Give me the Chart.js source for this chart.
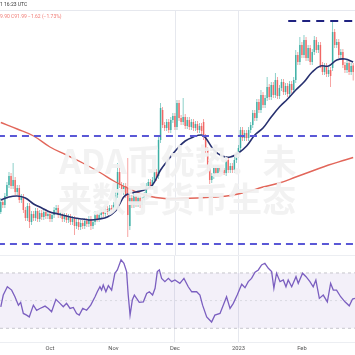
<!DOCTYPE html>
<html><head><meta charset="utf-8">
<script src="https://cdn.jsdelivr.net/npm/chart.js@4.4.0/dist/chart.umd.min.js"></script>
<style>
html,body{margin:0;padding:0;background:#fff;overflow:hidden;width:355px;height:355px;}
#wrap{position:relative;width:355px;height:355px;}
canvas{position:absolute;left:0;}
#main{top:0;}
#rsi{top:255px;}
</style></head><body>
<div id="wrap"><canvas id="main" width="355" height="255"></canvas><canvas id="rsi" width="355" height="100"></canvas></div>
<script>
// ---- data (one candle per day, day 0 = 7 Sep 2022) ----
const open = [
57,59.5,58.75,61,63.75,66,63.5,65,62,63,
60,60.75,57.5,55.5,58.5,54.5,56.5,55.5,57.25,55.25,
56.75,55.75,57,56,56.5,55.25,56.25,57.5,58,56.25,
56.75,55.25,56,55,55.75,54.5,55.25,53.5,54.5,53.25,
54.25,53.5,54.75,54,55.25,53.5,54.5,56.5,55.25,56.25,
57,56.5,57.75,57,58,57.5,58.75,61.25,67,63.75,
62,63.5,63,53.5,60.5,58.75,61,59,60.5,58.75,
60,61.25,63.5,64.5,63.5,65,67,66,75,82.5,
78.75,78,79.5,77.5,80,81,78.25,84.25,80.5,79.5,
80.75,78.5,80,78.25,79.5,78,79,77.5,78.5,79.5,
75.75,72.5,68,65,66,68,66.75,68,67,67.5,
66.75,70,67.5,68.5,67.5,70,71.25,73,77.5,75.5,
76.75,75.5,77.5,78.75,81.75,80.5,84.5,82.5,86.25,83.75,
85.5,88.25,85.75,88.75,86.25,90,86,88,89.5,87,
88.5,86.5,89,87.5,90,96.25,94.5,98.75,96.25,100,
95.5,98,94.5,97,100,97.5,98.75,93.75,92,93.5,
91.5,92.5,93,102,98.75,99.5,96.25,97,93.75,92.5,
94.25,92,93.61];
const close = [
59.5,58.75,61,63.75,66,63.5,65,62,63,60,
60.75,57.5,55.5,58.5,54.5,56.5,55.5,57.25,55.25,56.75,
55.75,57,56,56.5,55.25,56.25,57.5,58,56.25,56.75,
55.25,56,55,55.75,54.5,55.25,53.5,54.5,53.25,54.25,
53.5,54.75,54,55.25,53.5,54.5,56.5,55.25,56.25,57,
56.5,57.75,57,58,57.5,58.75,61.25,67,63.75,62,
63.5,61.25,56.25,60.5,58.75,61,59,60.5,58.75,60,
61.25,63.5,64.5,63.5,65,67,65.5,75,83,78.75,
78,79.5,77.5,80,81,78.25,84.25,80.5,79.5,80.75,
78.5,80,78.25,79.5,78,79,77.5,78.5,77.25,75.75,
72.5,68,65,66,68,66.75,68,67,67.5,66.75,
70,67.5,68.5,67.5,70,71.25,73,77.5,75.5,76.75,
75.5,77.5,78.75,81.75,80.5,84.5,82.5,86.25,83.75,85.5,
88.25,85.75,88.75,86.25,90,86,88,89.5,87,88.5,
86.5,89,87.5,90,96.25,94.5,98.75,96.25,100,95.5,
98,94.5,97,100,97.5,98.75,93.75,92,93.5,91.5,
92.5,91,102,98.75,99.5,96.25,97,93.75,92.5,94.25,
92,93.5,91.99];
const high = [
60.5,60.25,61.75,64.5,67,66.75,69.25,65.75,63.75,63.75,
61.5,61.5,58.25,59.25,59.25,57.25,57.25,58,58,57.5,
57.5,57.75,57.75,57.25,57.25,57,58.25,58.75,58.75,57.5,
57.5,56.75,56.75,56.5,56.5,56,56,55.25,55.25,55,
55,55.5,55.5,56,56,55.25,57.25,57.25,57,57.75,
57.75,58.5,58.5,58.75,58.75,59.5,62,69.25,68.75,64.5,
64.25,64.25,70.5,61.25,61.25,61.75,61.75,61.25,61.25,60.75,
62,64.25,65.25,65.25,65.75,67.75,67.75,75.75,84.25,83.25,
79.5,80.25,80.25,80.75,81.75,81.75,85,85,81.25,85.5,
81.5,80.75,80.75,80.25,80.25,79.75,79.75,79.25,79.25,80.25,
76.5,73.25,68.75,66.75,68.75,68.75,68.75,68.5,68,68,
70.75,70.75,69.25,69.25,70.75,72,73.75,78.25,78.25,77.5,
77.5,78.25,79.5,82.5,82.5,85.25,85.25,87.5,87,86.25,
90.75,89,89.5,89.5,91.75,90.75,88.75,90.25,90.25,89.25,
89.25,89.75,89.75,90.75,97.5,97,100.75,99.5,101.25,100.75,
98.75,98.75,97.75,101,100.75,99.5,99.5,94.5,94.25,94.25,
93.25,93.25,104.5,102.75,100.25,100.25,97.75,97.75,94.5,95,
95,94.25,94.25];
const low = [
56.5,58,58,60.25,63,62.75,62.75,61.25,61.25,59.25,
59.25,56.75,54.75,54.75,53,53.75,54.75,54.75,54.5,54.5,
55,55,55.25,55.25,54.5,54.5,55.5,56.75,55.5,55.5,
54.5,54.5,54.25,54.25,53.75,53.75,51.25,52.75,52.5,52.5,
52.75,52.75,53.25,53.25,52.5,52.75,53.75,54.5,54.5,55.5,
55.75,55.75,56.25,56.25,56.75,56.75,58,60.5,63,61.25,
61.25,60.5,50.75,52.5,58,58,58.25,58.25,58,58,
59.25,60.5,62.75,62.75,62.75,64.25,64.75,65.25,74.25,78,
77.25,77.25,76.75,76.75,79.25,77.5,77.5,79.75,78.75,78.75,
77.75,77.75,77.5,77.5,77.25,77.25,76.75,76.75,76.5,75,
71.75,67.25,64,64.25,65.25,66,66,66.5,66.5,66.25,
66,66.75,66.75,66.75,66.75,69.25,70.5,72.25,74.75,74.75,
74.75,74.75,76.75,78,79.75,79.75,81.75,81.75,83,83,
84.75,85,85,85.5,85.5,85.25,85.25,87.25,86.25,86.25,
85.75,85.75,86.75,86.75,89.25,93.75,93.75,95.5,95.5,94.75,
94.75,93.75,93.75,96.25,96.75,96.75,93,91.25,91.25,90.75,
90.75,88.25,92.25,98,98,95.5,95.5,93,91.75,91.75,
91.25,91.25,89.9];

// moving averages (day, value)
const ma20Days = [0,4,8,12,16,20,24,28,32,36,40,44,48,52,56,58,60,62,66,70,74,78,82,86,90,94,98,100,104,108,112,116,120,124,128,132,136,140,144,148,152,156,160,164,168,172];
const ma20 = [60,60.75,61,60.5,59,58,57,56.5,56,55.5,55.25,55,55.25,55.75,57.25,59,60.75,61.5,62,62.5,63.75,67.5,70.25,72.75,74.75,75.75,76.25,75.5,72.5,71,70.75,71.75,73.5,76.25,78,80.75,83.25,85.25,87.5,89.5,92,93.5,93.5,95,95.25,94.5];
const ma200Days = [0,8,16,24,32,40,48,56,64,72,80,88,96,104,112,120,128,136,144,152,160,168,172];
const ma200 = [79.38,77.75,76,73.25,71.25,69.25,67,64.5,62.5,61,60.38,60.38,60.5,60.75,61.13,62,63.25,64.25,65.75,67.25,68.75,70,70.63];

// horizontal levels
const levelTop = 104.75, levelTopStart = 140.3;
const levelMid = 76, levelLow = 49;

// RSI (day, value)
const rsiDays = [0,1.2,3.2,5.3,6.9,8.6,9.7,11,12.6,13.9,15.9,17.5,19.1,21.6,23.2,24.8,26.9,28.9,30.5,32.1,33.8,35.4,37,38.3,40,41.9,43.9,46,47.1,48.4,49.2,50,51.3,52.5,54.1,55.7,56.9,58.7,60.1,61.4,62.2,63.1,64.2,65.2,66.3,67.6,69.6,71.2,72.5,74.1,75.3,76.4,77.4,78.5,80.1,81.8,83.4,85,87.4,89.4,91.5,93.2,95.6,97.2,98.5,100.5,102.9,104.5,107,108.3,110.2,111.9,113.5,115.4,117.6,119.2,120.8,122.4,124.1,125.7,127.3,128.9,130.6,132.2,133.3,134.6,136.3,137.9,139.2,140.3,142,144.1,145.2,147.3,149,150.9,152.5,153.8,155.5,157.4,159.4,161,162.3,163.9,165.9,168,170.1,171.7,172.9];
const rsiValues = [45.5,54,60,57.6,52.8,46.7,48.7,40.7,39.5,38.2,46.7,43,44.3,46,44.3,41.9,50.9,48,45.5,48,44.3,45,40.7,39.5,44.3,43,46.7,52.8,56.4,60,57.6,61.3,56.4,60.8,57.6,69.8,72.2,79.5,77,71,54,39.5,50.4,54,51.6,48.7,49.1,55.2,56.4,54,58.9,71,72.2,66.1,63.7,66.1,63.7,64.9,62.5,66.1,60,56.4,56.4,54,46.7,38.2,34.5,39.5,40.7,45.5,52.8,44.3,48,54,61.8,59.3,63.7,66.1,70.5,72.2,75.8,77,73.4,71,58.9,69.8,63.7,64.9,60,64.9,60,67.3,62.5,69.8,67.3,63.7,60,64.9,51.6,54,49.1,62.5,57.6,57.6,52.8,49.1,46.2,51.1,51.6];

// axis tick labels
const monthTicks = [24,55,85,116,147];
const monthLabels = ['Oct','Nov','Dec','2023','Feb'];
const headerLine1 = '1 16:23 UTC';
const headerLine2 = '9.90 C91.99 \u22121.62 (\u22121.73%)';
const watermark1 = 'ADA币优势：未';
const watermark2 = '来数字货币生态';

// ---- styling ----
const X_MIN = -0.39, X_MAX = 172.9;
const UP = 'rgba(38,166,154,0.75)', DOWN = 'rgba(239,83,80,0.75)';
const candleColors = close.map((c,i) => c >= open[i] ? UP : DOWN);
const gridDays = [85,116];

const mainPlugin = {
  id: 'mainDeco',
  beforeDatasetsDraw(chart) {
    const {ctx, chartArea: a, scales: {x}} = chart;
    ctx.save();
    ctx.strokeStyle = '#e6e8ee'; ctx.lineWidth = 1;
    gridDays.forEach(d => {
      const px = Math.round(x.getPixelForValue(d)) + 0.5;
      ctx.beginPath(); ctx.moveTo(px, a.top); ctx.lineTo(px, a.bottom); ctx.stroke();
    });
    ctx.beginPath(); ctx.moveTo(0, a.top + 0.5); ctx.lineTo(355, a.top + 0.5); ctx.stroke();
    ctx.restore();
  },
  afterDatasetsDraw(chart) {
    const {ctx} = chart;
    ctx.save();
    ctx.fillStyle = 'rgba(241,241,241,0.93)';
    ctx.font = 'bold 34px "Noto Sans CJK SC"';
    ctx.textAlign = 'center'; ctx.textBaseline = 'middle';
    ctx.fillText(watermark1, 178, 161);
    ctx.fillText(watermark2, 177, 199);
    ctx.restore();
  },
  afterDraw(chart) {
    const {ctx} = chart;
    ctx.save();
    ctx.textAlign = 'left'; ctx.textBaseline = 'middle';
    ctx.font = '5px Roboto';
    ctx.fillStyle = '#333';
    ctx.fillText(headerLine1, 0, 5);
    ctx.fillStyle = '#f07a74';
    ctx.fillText(headerLine2, 0, 17);
    ctx.restore();
  }
};

new Chart(document.getElementById('main'), {
  type: 'bar',
  data: {
    datasets: [
      { type: 'line', label: 'top', order: 0, data: [{x: levelTopStart, y: levelTop}, {x: X_MAX + 1, y: levelTop}],
        borderColor: '#1f2280', borderWidth: 2, borderDash: [8,6], pointRadius: 0 },
      { type: 'line', label: 'mid', order: 0, data: [{x: X_MIN - 1, y: levelMid}, {x: X_MAX + 1, y: levelMid}],
        borderColor: '#5a58d6', borderWidth: 2, borderDash: [7,5], pointRadius: 0 },
      { type: 'line', label: 'low', order: 0, data: [{x: X_MIN - 1, y: levelLow}, {x: X_MAX + 1, y: levelLow}],
        borderColor: '#5a58d6', borderWidth: 2, borderDash: [7,5], pointRadius: 0 },
      { type: 'line', label: 'MA20', order: 1, data: ma20Days.map((d,i) => ({x: d, y: ma20[i]})),
        borderColor: '#27306f', borderWidth: 1.6, pointRadius: 0, tension: 0.4 },
      { type: 'line', label: 'MA200', order: 1, data: ma200Days.map((d,i) => ({x: d, y: ma200[i]})),
        borderColor: '#e2665a', borderWidth: 1.4, pointRadius: 0, tension: 0.4 },
      { type: 'bar', label: 'body', order: 2, grouped: false, data: open.map((o,i) => ({x: i, y: [o, close[i]]})),
        backgroundColor: candleColors, barThickness: 1.6, inflateAmount: 0, minBarLength: 0.6 },
      { type: 'bar', label: 'wick', order: 3, grouped: false, data: low.map((l,i) => ({x: i, y: [l, high[i]]})),
        backgroundColor: candleColors, barThickness: 0.7, inflateAmount: 0 }
    ]
  },
  options: {
    responsive: false, animation: false, devicePixelRatio: 1,
    layout: {padding: {top: 10, left: 0, right: 0, bottom: 0}},
    plugins: {legend: {display: false}, tooltip: {enabled: false}},
    scales: {
      x: {type: 'linear', min: X_MIN, max: X_MAX, offset: false, display: false},
      y: {type: 'linear', min: 46.25, max: 107.5, display: false}
    }
  },
  plugins: [mainPlugin]
});

const rsiPlugin = {
  id: 'rsiDeco',
  beforeDatasetsDraw(chart) {
    const {ctx, chartArea: a, scales: {y}} = chart;
    const y70 = y.getPixelForValue(70), y30 = y.getPixelForValue(30), y50 = y.getPixelForValue(50);
    ctx.save();
    ctx.fillStyle = 'rgba(126,87,194,0.09)';
    ctx.fillRect(a.left, y70, a.right - a.left, y30 - y70);
    ctx.strokeStyle = '#b8b8c0'; ctx.lineWidth = 0.8; ctx.setLineDash([3,3]);
    [y70, y30].forEach(v => { ctx.beginPath(); ctx.moveTo(a.left, v); ctx.lineTo(a.right, v); ctx.stroke(); });
    ctx.strokeStyle = '#d4d4dc'; ctx.setLineDash([2,3]);
    ctx.beginPath(); ctx.moveTo(a.left, y50); ctx.lineTo(a.right, y50); ctx.stroke();
    ctx.setLineDash([]);
    ctx.strokeStyle = '#eceef2'; ctx.lineWidth = 1;
    ctx.beginPath(); ctx.moveTo(0, 0.5); ctx.lineTo(355, 0.5); ctx.stroke();
    ctx.restore();
  }
};

new Chart(document.getElementById('rsi'), {
  type: 'line',
  data: {
    datasets: [{ label: 'RSI', data: rsiDays.map((d,i) => ({x: d, y: rsiValues[i]})),
      borderColor: '#7b5fc0', borderWidth: 1.3, pointRadius: 0, tension: 0 }]
  },
  options: {
    responsive: false, animation: false, devicePixelRatio: 1,
    layout: {padding: 0},
    plugins: {legend: {display: false}, tooltip: {enabled: false}},
    scales: {
      x: {type: 'linear', min: X_MIN, max: X_MAX,
        afterBuildTicks: s => { s.ticks = monthTicks.map(v => ({value: v})); },
        ticks: {autoSkip: false, maxRotation: 0, padding: 3, color: '#555',
          font: {family: 'Roboto', size: 5.8},
          callback: v => monthLabels[monthTicks.indexOf(v)]},
        grid: {drawTicks: false, color: c => (c.tick && gridDays.includes(c.tick.value)) ? '#e6e8ee' : 'rgba(0,0,0,0)'},
        border: {color: '#eceef2'}
      },
      y: {type: 'linear', min: 20, max: 83, display: false}
    }
  },
  plugins: [rsiPlugin]
});
</script>
</body></html>
